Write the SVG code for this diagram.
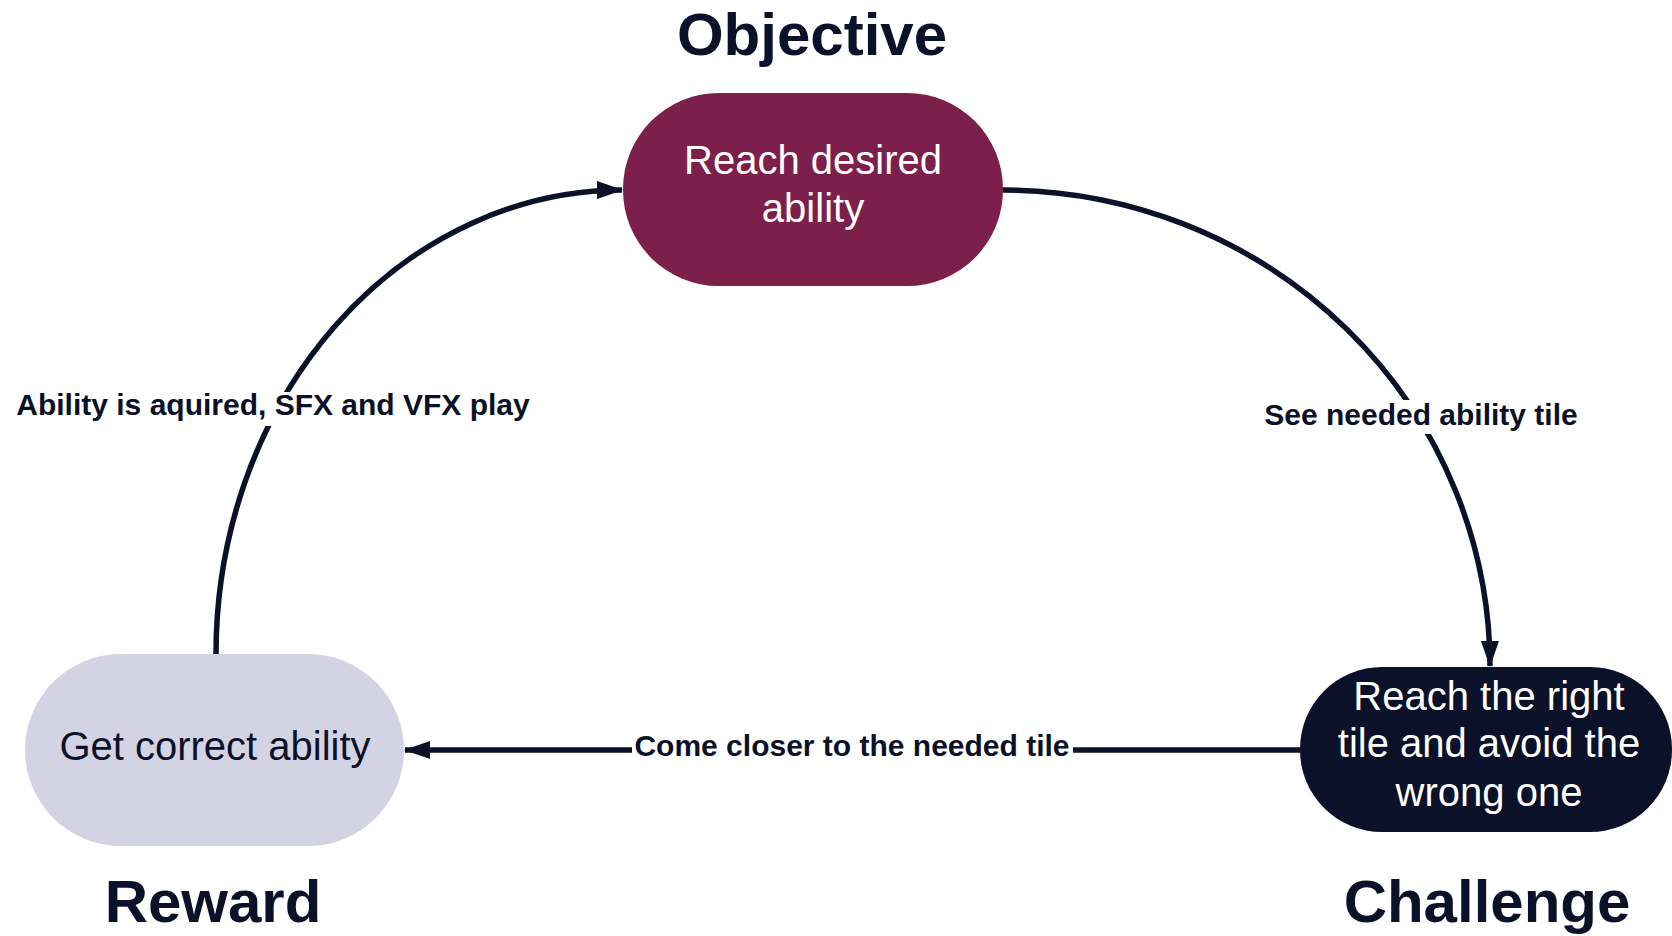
<svg xmlns="http://www.w3.org/2000/svg" width="1672" height="936" viewBox="0 0 1672 936">
<style>
.title{font-family:"Liberation Sans",Arial,sans-serif;font-weight:bold;font-size:60px;fill:#0b1128;text-anchor:middle}
.node{font-family:"Liberation Sans",Arial,sans-serif;font-size:40px;text-anchor:middle}
.lbl{font-family:"Liberation Sans",Arial,sans-serif;font-weight:bold;font-size:30px;fill:#0b1128;text-anchor:middle}
.edge{fill:none;stroke:#0b1128;stroke-width:5.5}
.bg{fill:#ffffff}
</style>
<defs>
<marker id="arr" markerUnits="userSpaceOnUse" markerWidth="26" markerHeight="18" refX="25" refY="9" orient="auto">
<path d="M0,0 L26,9 L0,18 Z" fill="#0b1128"/>
</marker>
</defs>
<rect width="1672" height="936" fill="#ffffff"/>
<g id="titles">
<text class="title" x="812" y="55">Objective</text>
<text class="title" x="213" y="922">Reward</text>
<text class="title" x="1487" y="922">Challenge</text>
</g>
<g id="connectors">
<path class="edge" d="M 216 654 A 407 464 0 0 1 622 190" marker-end="url(#arr)"/>
<path class="edge" d="M 1003 190 A 487 477 0 0 1 1490 666" marker-end="url(#arr)"/>
<path class="edge" d="M 1300 750 L 405 750" marker-end="url(#arr)"/>
<rect class="bg" x="10" y="392" width="526" height="34"/>
<text class="lbl" x="273" y="415">Ability is aquired, SFX and VFX play</text>
<rect class="bg" x="1260" y="400" width="322" height="34"/>
<text class="lbl" x="1421" y="425">See needed ability tile</text>
<rect class="bg" x="632" y="730" width="441" height="34"/>
<text class="lbl" x="852" y="756">Come closer to the needed tile</text>
</g>
<g id="objective">
<rect x="623" y="93" width="380" height="193" rx="96" ry="96" fill="#7d1f4b"/>
<text class="node" x="813" y="174" fill="#ffffff">Reach desired</text>
<text class="node" x="813" y="222" fill="#ffffff">ability</text>
</g>
<g id="reward">
<rect x="25" y="654" width="379" height="192" rx="96" ry="96" fill="#d4d3e3"/>
<text class="node" x="215" y="760" fill="#0b1128">Get correct ability</text>
</g>
<g id="challenge">
<rect x="1300" y="667" width="372" height="165" rx="82" ry="82" fill="#0b1128"/>
<text class="node" x="1489" y="710" fill="#ffffff">Reach the right</text>
<text class="node" x="1489" y="757" fill="#ffffff">tile and avoid the</text>
<text class="node" x="1489" y="806" fill="#ffffff">wrong one</text>
</g>
</svg>
